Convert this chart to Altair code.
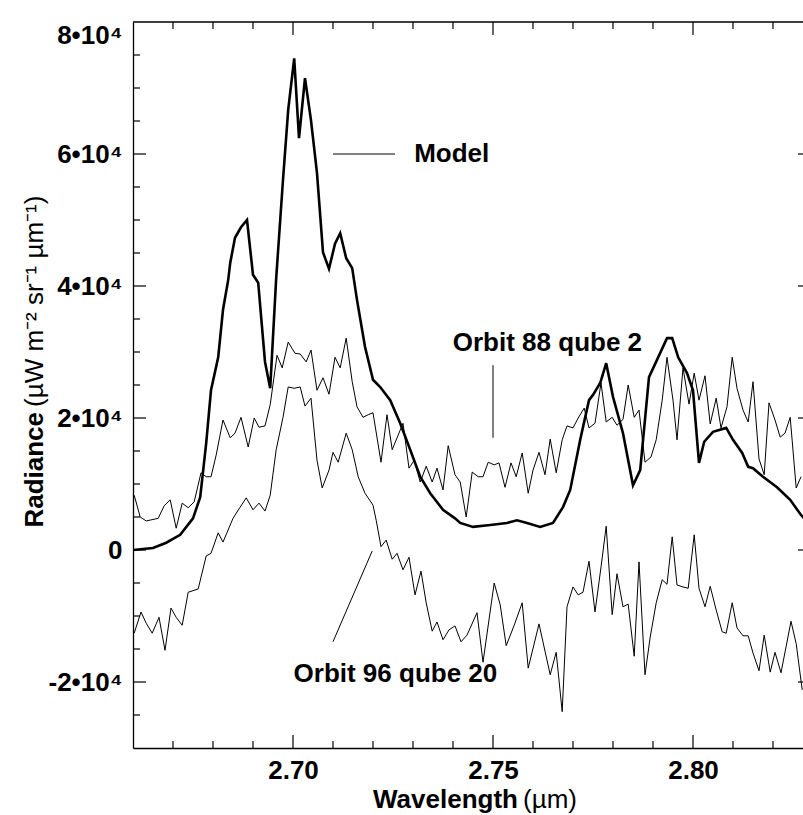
import altair as alt
import pandas as pd

# ---------------- data ----------------
model_x = [2.6600, 2.6650, 2.6683, 2.6718, 2.6750, 2.6768, 2.6783, 2.6795, 2.6813, 2.6825,
           2.6838, 2.6843, 2.6855, 2.6870, 2.6885, 2.6900, 2.6913, 2.6930, 2.6943, 2.6958,
           2.6975, 2.6988, 2.7003, 2.7015, 2.7030, 2.7045, 2.7060, 2.7075, 2.7090, 2.7105,
           2.7118, 2.7133, 2.7148, 2.7160, 2.7180, 2.7200, 2.7218, 2.7243, 2.7268, 2.7293,
           2.7318, 2.7343, 2.7375, 2.7405, 2.7418, 2.7450, 2.7493, 2.7535, 2.7560, 2.7585,
           2.7618, 2.7650, 2.7675, 2.7693, 2.7718, 2.7740, 2.7750, 2.7768, 2.7783, 2.7800,
           2.7825, 2.7850, 2.7868, 2.7890, 2.7910, 2.7935, 2.7948, 2.7963, 2.7985, 2.8000,
           2.8015, 2.8028, 2.8050, 2.8083, 2.8100, 2.8123, 2.8138, 2.8150, 2.8175, 2.8210,
           2.8243, 2.8270, 2.8283]
model_y = [0, 300, 1100, 2300, 4800, 8000, 16200, 24200, 29200, 36400,
           40900, 43500, 47300, 48900, 50000, 41700, 40500, 28500, 24500, 41200,
           56100, 66700, 74500, 62400, 71500, 65100, 57100, 45100, 42600, 46400,
           48000, 44200, 42700, 37900, 30800, 25800, 24700, 22700, 19200, 15200,
           11100, 8600, 6100, 4800, 4100, 3500, 3800, 4100, 4500, 4100,
           3500, 4100, 6500, 9100, 16700, 22700, 23500, 25300, 28300, 23200,
           17700, 9800, 12100, 26200, 28800, 32100, 32100, 29200, 26800, 24200,
           13200, 16400, 17900, 18500, 16700, 14700, 12600, 12400, 11100, 9500,
           7600, 5300, 4500]

o88_x = [2.6603, 2.6618, 2.6633, 2.6663, 2.6678, 2.6693, 2.6708, 2.6723, 2.6738, 2.6753,
         2.6770, 2.6783, 2.6795, 2.6808, 2.6825, 2.6843, 2.6855, 2.6870, 2.6888, 2.6903,
         2.6915, 2.6930, 2.6943, 2.6960, 2.6973, 2.6988, 2.7005, 2.7018, 2.7033, 2.7045,
         2.7060, 2.7075, 2.7090, 2.7105, 2.7118, 2.7133, 2.7148, 2.7160, 2.7175, 2.7188,
         2.7200, 2.7220, 2.7235, 2.7248, 2.7275, 2.7290, 2.7303, 2.7318, 2.7333, 2.7348,
         2.7360, 2.7375, 2.7388, 2.7405, 2.7418, 2.7433, 2.7448, 2.7463, 2.7475, 2.7488,
         2.7503, 2.7515, 2.7530, 2.7545, 2.7558, 2.7573, 2.7588, 2.7600, 2.7615, 2.7630,
         2.7643, 2.7658, 2.7673, 2.7685, 2.7700, 2.7713, 2.7728, 2.7740, 2.7755, 2.7770,
         2.7783, 2.7798, 2.7810, 2.7825, 2.7838, 2.7853, 2.7865, 2.7880, 2.7895, 2.7908,
         2.7923, 2.7935, 2.7950, 2.7960, 2.7975, 2.7990, 2.8003, 2.8015, 2.8030, 2.8043,
         2.8058, 2.8070, 2.8085, 2.8098, 2.8110, 2.8125, 2.8138, 2.8150, 2.8165, 2.8178,
         2.8190, 2.8205, 2.8218, 2.8230, 2.8243, 2.8258, 2.8270]
o88_y = [8300, 5000, 4400, 4800, 6700, 7600, 3300, 7100, 6400, 7300,
         11700, 11100, 11100, 14400, 19700, 17000, 17700, 20100, 15600, 20000,
         18600, 18800, 22000, 29500, 27600, 31500, 29800, 29700, 28500, 30300,
         24200, 26100, 23600, 29200, 27600, 32100, 25500, 21700, 20100, 20500,
         20800, 13300, 20500, 15200, 19200, 12400, 13600, 10300, 12700, 10300,
         12400, 9100, 15800, 11400, 10300, 5000, 11800, 11100, 11100, 13300,
         12900, 13200, 9500, 13200, 11100, 14700, 8600, 12100, 14800, 11400,
         16800, 11700, 16700, 18800, 18500, 20000, 21500, 18500, 19200, 25300,
         19400, 20100, 18900, 19800, 25000, 20100, 21200, 13300, 14100, 16700,
         22700, 29200, 22700, 16700, 27600, 22100, 26800, 22700, 26400, 19100,
         23000, 18500, 21700, 29200, 24500, 21200, 19400, 25500, 13800, 11400,
         22300, 19700, 17100, 17700, 20100, 9400, 11100]

o96_x = [2.6603, 2.6620, 2.6633, 2.6648, 2.6665, 2.6680, 2.6695, 2.6708, 2.6723, 2.6738,
         2.6763, 2.6783, 2.6795, 2.6813, 2.6825, 2.6850, 2.6868, 2.6883, 2.6900, 2.6915,
         2.6930, 2.6943, 2.6958, 2.6975, 2.6988, 2.7003, 2.7018, 2.7030, 2.7045, 2.7060,
         2.7073, 2.7090, 2.7100, 2.7113, 2.7133, 2.7148, 2.7163, 2.7180, 2.7200, 2.7208,
         2.7220, 2.7233, 2.7248, 2.7260, 2.7275, 2.7290, 2.7305, 2.7320, 2.7333, 2.7348,
         2.7360, 2.7375, 2.7390, 2.7405, 2.7420, 2.7435, 2.7460, 2.7475, 2.7503, 2.7518,
         2.7533, 2.7553, 2.7573, 2.7588, 2.7615, 2.7643, 2.7658, 2.7673, 2.7685, 2.7700,
         2.7713, 2.7725, 2.7740, 2.7755, 2.7770, 2.7783, 2.7798, 2.7810, 2.7825, 2.7838,
         2.7853, 2.7865, 2.7880, 2.7893, 2.7908, 2.7923, 2.7935, 2.7948, 2.7960, 2.7975,
         2.7988, 2.8003, 2.8015, 2.8030, 2.8043, 2.8058, 2.8073, 2.8083, 2.8098, 2.8110,
         2.8125, 2.8138, 2.8150, 2.8165, 2.8178, 2.8193, 2.8205, 2.8220, 2.8245, 2.8258,
         2.8273]
o96_y = [-12600, -9400, -11100, -12600, -10200, -15200, -8800, -10200, -11400, -6400,
         -5900, -900, -500, 2600, 1200, 4800, 6500, 7900, 6100, 7100,
         5900, 8300, 15200, 20100, 24700, 24500, 24700, 21800, 23000, 13600,
         9400, 12100, 14800, 13300, 17700, 15200, 11100, 8600, 6800, 4500,
         500, 1500, -1400, -500, -3000, -1100, -6800, -3200, -8000, -12300,
         -10900, -13600, -12100, -11500, -13900, -12900, -9500, -17000, -5000, -8300,
         -14500, -11400, -8000, -17900, -11200, -18900, -15500, -24500, -8600, -5600,
         -6800, -6400, -1700, -9400, -2600, 3600, -9800, -3600, -8600, -8200,
         -16100, -1800, -18900, -13200, -8000, -4500, -5200, 2000, -5300, -5600,
         -5800, 2300, -5800, -8600, -5500, -9100, -12400, -12600, -8000, -11800,
         -13000, -13000, -15600, -18300, -12900, -18500, -15500, -18600, -10800, -14200,
         -21200]

# axis tick values
x_major = [2.70, 2.75, 2.80]
x_minor = [2.67, 2.68, 2.69, 2.71, 2.72, 2.73, 2.74, 2.76, 2.77, 2.78, 2.79, 2.81, 2.82]
y_major = [-20000, 0, 20000, 40000, 60000]
y_labels = [-20000, 0, 20000, 40000, 60000, 80000]
y_minor = [-25000, -15000, -10000, -5000, 5000, 10000, 15000, 25000, 30000, 35000,
           45000, 50000, 55000, 65000, 70000, 75000]

# annotations
ann_text = ["Model", "Orbit 88 qube 2", "Orbit 96 qube 20"]
ann_tx = [2.7303, 2.7636, 2.7256]
ann_ty = [60000, 31400, -18800]
ann_align = ["left", "center", "center"]
lead_x = [2.7100, 2.7500, 2.7100]
lead_y = [60000, 28000, -13900]
lead_x2 = [2.7255, 2.7500, 2.7198]
lead_y2 = [60000, 17000, -150]

# ---------------- chart ----------------
W, H = 670, 726
FONT = "Liberation Sans"
FS = 26

xs = alt.Scale(domain=[2.66, 2.8275], nice=False, zero=False)
ys = alt.Scale(domain=[-30000, 80000], nice=False, zero=False)

xaxis = alt.Axis(values=x_major, format=".2f", ticks=False, grid=False,
                 domainColor="black", domainWidth=1.3, labelFont=FONT,
                 labelFontSize=FS, labelFontWeight="bold", labelColor="black",
                 labelPadding=9, title=None, labelFlush=False)
yaxis = alt.Axis(values=y_labels, ticks=False, grid=False,
                 labelExpr="datum.value == 0 ? '0' : (datum.value / 10000) + '•10⁴'",
                 domainColor="black", domainWidth=1.3, labelFont=FONT,
                 labelFontSize=FS, labelFontWeight="bold", labelColor="black",
                 labelPadding=11, title=None, labelFlush=True)


def X(f="x"):
    return alt.X(f"{f}:Q", scale=xs, axis=xaxis)


def Y(f="y"):
    return alt.Y(f"{f}:Q", scale=ys, axis=yaxis)


df_model = pd.DataFrame({"x": model_x, "y": model_y})
df_88 = pd.DataFrame({"x": o88_x, "y": o88_y})
df_96 = pd.DataFrame({"x": o96_x, "y": o96_y})

line_model = alt.Chart(df_model).mark_line(color="black", strokeWidth=2.6, clip=True,
                                           strokeJoin="miter").encode(x=X(), y=Y())
line_88 = alt.Chart(df_88).mark_line(color="black", strokeWidth=1.0, clip=True).encode(x=X(), y=Y())
line_96 = alt.Chart(df_96).mark_line(color="black", strokeWidth=1.0, clip=True).encode(x=X(), y=Y())

df_lead = pd.DataFrame({"x": lead_x, "y": lead_y, "x2": lead_x2, "y2": lead_y2})
leads = alt.Chart(df_lead).mark_rule(color="black", strokeWidth=1.0).encode(
    x=X(), y=Y(), x2="x2:Q", y2="y2:Q")

texts = []
for t, tx, ty, al in zip(ann_text, ann_tx, ann_ty, ann_align):
    texts.append(alt.Chart(pd.DataFrame({"x": [tx], "y": [ty], "t": [t]})).mark_text(
        font=FONT, fontSize=FS, fontWeight="bold", color="black", align=al,
        baseline="middle").encode(x=X(), y=Y(), text="t:N"))

# ticks (pointing inward)
df_xmin = pd.DataFrame({"x": x_minor})
df_xmaj = pd.DataFrame({"x": x_major})
df_ymin = pd.DataFrame({"y": y_minor})
df_ymaj = pd.DataFrame({"y": y_major})
tk = dict(color="black", strokeWidth=1.2)
ticks = [
    alt.Chart(df_xmin).mark_rule(**tk).encode(x=X(), y=alt.value(H), y2=alt.value(H - 7)),
    alt.Chart(df_xmaj).mark_rule(**tk).encode(x=X(), y=alt.value(H), y2=alt.value(H - 13)),
    alt.Chart(df_xmin).mark_rule(**tk).encode(x=X(), y=alt.value(0), y2=alt.value(7)),
    alt.Chart(df_xmaj).mark_rule(**tk).encode(x=X(), y=alt.value(0), y2=alt.value(13)),
    alt.Chart(df_ymin).mark_rule(**tk).encode(y=Y(), x=alt.value(0), x2=alt.value(7)),
    alt.Chart(df_ymaj).mark_rule(**tk).encode(y=Y(), x=alt.value(0), x2=alt.value(13)),
    alt.Chart(df_ymaj).mark_rule(**tk).encode(y=Y(), x=alt.value(W - 5), x2=alt.value(W)),
]
top_frame = alt.Chart(pd.DataFrame({"a": [0]})).mark_rule(color="black", strokeWidth=1.3).encode(
    x=alt.value(0), x2=alt.value(W), y=alt.value(0))

# axis titles (bold word + regular unit)
one = pd.DataFrame({"a": [0]})
xt1 = alt.Chart(one).mark_text(text="Wavelength", font=FONT, fontSize=FS, fontWeight="bold",
                               color="black", align="right", baseline="middle").encode(
    x=alt.value(385), y=alt.value(778))
xt2 = alt.Chart(one).mark_text(text="(µm)", font=FONT, fontSize=FS, fontWeight="normal",
                               color="black", align="left", baseline="middle").encode(
    x=alt.value(390), y=alt.value(778))
yt1 = alt.Chart(one).mark_text(text="Radiance", font=FONT, fontSize=FS, fontWeight="bold",
                               color="black", align="right", baseline="middle", angle=270).encode(
    x=alt.value(-98), y=alt.value(390))
yt2 = alt.Chart(one).mark_text(text="(µW m⁻² sr⁻¹ µm⁻¹)", font=FONT, fontSize=FS,
                               fontWeight="normal", color="black", align="left",
                               baseline="middle", angle=270).encode(
    x=alt.value(-98), y=alt.value(385))

chart = alt.layer(line_88, line_96, line_model, leads, *texts, *ticks, top_frame,
                  xt1, xt2, yt1, yt2).properties(
    width=W, height=H,
    autosize=alt.AutoSizeParams(type="none"),
    padding={"left": 133, "top": 22, "right": 0, "bottom": 67},
    background="white",
).configure_view(stroke=None)

chart.save("out.html", embed_options={"renderer": "svg", "actions": False})
